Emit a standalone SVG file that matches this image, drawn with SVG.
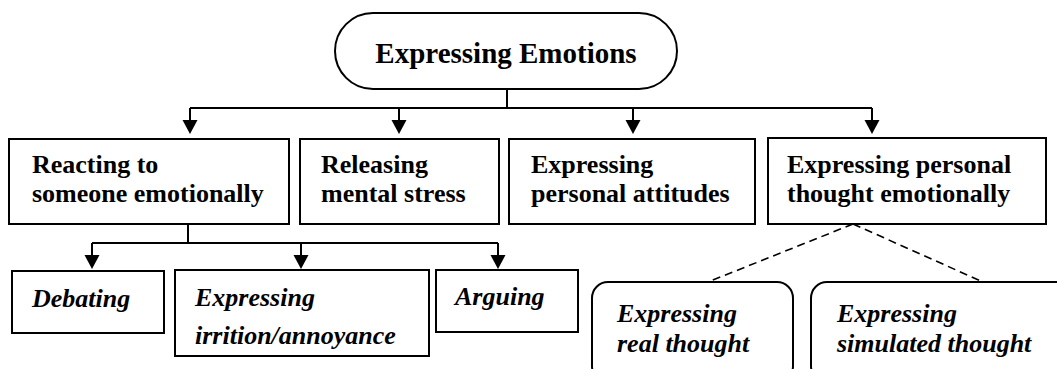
<svg xmlns="http://www.w3.org/2000/svg" width="1057" height="369" viewBox="0 0 1057 369">
  <style>
    .box { fill: #fff; stroke: #000; stroke-width: 2; }
    .lbl { font-family: 'Liberation Serif', 'Times New Roman', serif; font-weight: bold; font-size: 26px; fill: #000; }
    .it { font-style: italic; }
    .title { font-size: 29px; }
    .wire { fill: none; stroke: #000; stroke-width: 2; }
    .dash { fill: none; stroke: #000; stroke-width: 1.6; stroke-dasharray: 8 5; }
    .head { fill: #000; }
  </style>
  <defs>
    <!-- filled downward arrowhead, tip at (0,0) -->
    <path id="ah" class="head" d="M-7.5,-14 L7.5,-14 L0,0 Z"/>
  </defs>
  <rect width="1057" height="369" fill="#fff"/>

  <g id="connectors">
    <!-- root to first level -->
    <path class="wire" d="M507,89 V108"/>
    <path class="wire" d="M190,108 H872"/>
    <path class="wire" d="M190,108 V121"/>
    <path class="wire" d="M399,108 V121"/>
    <path class="wire" d="M633,108 V121"/>
    <path class="wire" d="M872,108 V121"/>
    <use href="#ah" x="190" y="134"/>
    <use href="#ah" x="399" y="134"/>
    <use href="#ah" x="633" y="134"/>
    <use href="#ah" x="872" y="134"/>
    <!-- reacting to second level -->
    <path class="wire" d="M188,224 V243"/>
    <path class="wire" d="M92,243 H498"/>
    <path class="wire" d="M92,243 V256"/>
    <path class="wire" d="M301,243 V256"/>
    <path class="wire" d="M498,243 V256"/>
    <use href="#ah" x="92" y="269"/>
    <use href="#ah" x="301" y="269"/>
    <use href="#ah" x="498" y="269"/>
    <!-- dashed links -->
    <path class="dash" d="M853,224 L708,282"/>
    <path class="dash" d="M853,224 L983,282"/>
  </g>

  <g id="root">
    <rect class="box" x="335" y="13" width="342" height="76" rx="38" ry="38"/>
    <text class="lbl title" x="506" y="63" text-anchor="middle">Expressing Emotions</text>
  </g>

  <g id="reacting">
    <rect class="box" x="9" y="139" width="280" height="85"/>
    <text class="lbl" x="32" y="173">Reacting to</text>
    <text class="lbl" x="32" y="202">someone emotionally</text>
  </g>

  <g id="releasing">
    <rect class="box" x="300" y="139" width="199" height="85"/>
    <text class="lbl" x="321" y="173">Releasing</text>
    <text class="lbl" x="321" y="202">mental stress</text>
  </g>

  <g id="attitudes">
    <rect class="box" x="509" y="139" width="246" height="85"/>
    <text class="lbl" x="531" y="173">Expressing</text>
    <text class="lbl" x="531" y="202">personal attitudes</text>
  </g>

  <g id="thought">
    <rect class="box" x="768" y="138" width="278" height="86"/>
    <text class="lbl" x="787" y="173">Expressing personal</text>
    <text class="lbl" x="787" y="202">thought emotionally</text>
  </g>

  <g id="debating">
    <rect class="box" x="12" y="271" width="152" height="62"/>
    <text class="lbl it" x="32" y="307">Debating</text>
  </g>

  <g id="irritation">
    <rect class="box" x="175" y="270" width="254" height="86"/>
    <text class="lbl it" x="195" y="306">Expressing</text>
    <text class="lbl it" x="195" y="344">irrition/annoyance</text>
  </g>

  <g id="arguing">
    <rect class="box" x="436" y="270" width="142" height="62"/>
    <text class="lbl it" x="455" y="305">Arguing</text>
  </g>

  <g id="real">
    <rect class="box" x="592" y="282" width="201" height="100" rx="16" ry="16"/>
    <text class="lbl it" x="617" y="322">Expressing</text>
    <text class="lbl it" x="617" y="352">real thought</text>
  </g>

  <g id="simulated">
    <rect class="box" x="811" y="282" width="260" height="100" rx="16" ry="16"/>
    <text class="lbl it" x="837" y="322">Expressing</text>
    <text class="lbl it" x="837" y="352">simulated thought</text>
  </g>
</svg>
